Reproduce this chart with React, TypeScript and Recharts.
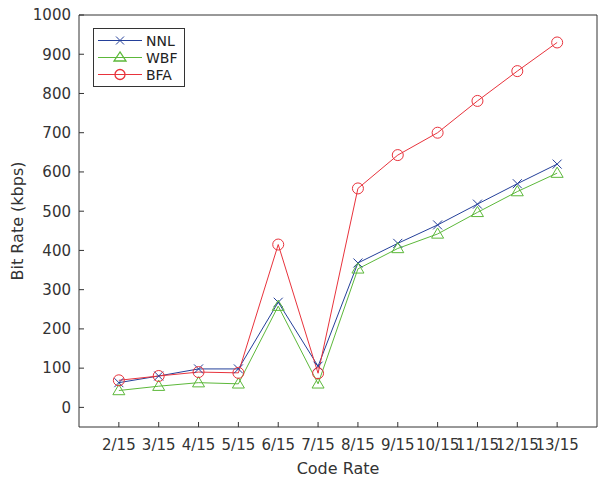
import { LineChart, Line, XAxis, YAxis } from "recharts";

// code rate index k -> label k/15
const codeRates = [2, 3, 4, 5, 6, 7, 8, 9, 10, 11, 12, 13];
const nnl = [63, 80, 98, 98, 268, 105, 368, 418, 465, 518, 570, 620];
const wbf = [43, 54, 63, 60, 258, 60, 353, 405, 442, 497, 550, 597];
const bfa = [69, 80, 90, 88, 415, 87, 558, 643, 700, 781, 857, 930];
const yTicks = [0, 100, 200, 300, 400, 500, 600, 700, 800, 900, 1000];

const BLUE = "#24409a";
const GREEN = "#5cb83a";
const RED = "#e8333c";
const FONT = "DejaVu Sans, sans-serif";

const data = codeRates.map((k, i) => ({ k, nnl: nnl[i], wbf: wbf[i], bfa: bfa[i] }));

const Cross = (props: any) => {
    const { cx, cy } = props;
    if (cx == null || cy == null) return null;
    const r = 4.5;
    return (
        <g stroke={BLUE} strokeWidth={1}>
            <line x1={cx - r} y1={cy - r} x2={cx + r} y2={cy + r} />
            <line x1={cx - r} y1={cy + r} x2={cx + r} y2={cy - r} />
        </g>
    );
};

const Tri = (props: any) => {
    const { cx, cy } = props;
    if (cx == null || cy == null) return null;
    const r = 6;
    return (
        <polygon
            points={`${cx},${cy - r} ${cx - r},${cy + r * 0.7} ${cx + r},${cy + r * 0.7}`}
            fill="none"
            stroke={GREEN}
            strokeWidth={1}
        />
    );
};

const Circ = (props: any) => {
    const { cx, cy } = props;
    if (cx == null || cy == null) return null;
    return <circle cx={cx} cy={cy} r={5.5} fill="none" stroke={RED} strokeWidth={1} />;
};

const LegendBox = () => {
    const rows = [
        { name: "NNL", color: BLUE, mark: "x" },
        { name: "WBF", color: GREEN, mark: "t" },
        { name: "BFA", color: RED, mark: "o" },
    ];
    return (
        <div style={{ position: "absolute", left: 93, top: 28, border: "1px solid #333", background: "#fff", width: 92, height: 59, boxSizing: "border-box", paddingTop: 3 }}>
            {rows.map((r) => (
                <div key={r.name} style={{ display: "flex", alignItems: "center", height: 17 }}>
                    <svg width={52} height={17}>
                        <line x1={4} y1={8.5} x2={48} y2={8.5} stroke={r.color} strokeWidth={1.2} />
                        {r.mark === "x" && (
                            <g stroke={r.color}>
                                <line x1={22} y1={4.5} x2={30} y2={12.5} />
                                <line x1={22} y1={12.5} x2={30} y2={4.5} />
                            </g>
                        )}
                        {r.mark === "t" && (
                            <polygon points="26,3 20,12 32,12" fill="none" stroke={r.color} strokeWidth={1.3} />
                        )}
                        {r.mark === "o" && <circle cx={26} cy={8.5} r={5} fill="none" stroke={r.color} strokeWidth={1.3} />}
                    </svg>
                    <span style={{ fontFamily: FONT, fontSize: 14, color: "#222" }}>{r.name}</span>
                </div>
            ))}
        </div>
    );
};

const tickStyle = { fontFamily: FONT, fontSize: 15, fill: "#333" };

export default function App() {
    return (
        <div style={{ position: "absolute", left: 0, top: 0, width: 598, height: 479, background: "#fff" }}>
            <LineChart width={598} height={479} data={data} margin={{ top: 14, right: 0, bottom: 0, left: 0 }}>
                <XAxis
                    xAxisId="b"
                    dataKey="k"
                    type="number"
                    domain={[1, 14]}
                    ticks={codeRates}
                    tickFormatter={(v) => `${v}/15`}
                    interval={0}
                    stroke="#333"
                    tick={tickStyle}
                    tickSize={-5}
                    tickMargin={17}
                    height={52}
                    label={{ value: "Code Rate", position: "insideBottom", offset: 5, style: { fontFamily: FONT, fontSize: 16, fill: "#333" } }}
                />
                <XAxis
                    xAxisId="t"
                    dataKey="k"
                    type="number"
                    orientation="top"
                    domain={[1, 14]}
                    ticks={codeRates}
                    tick={false}
                    tickSize={-5}
                    stroke="#333"
                    height={1}
                />
                <YAxis
                    yAxisId="l"
                    type="number"
                    domain={[-50, 1000]}
                    ticks={yTicks}
                    interval={0}
                    stroke="#333"
                    tick={tickStyle}
                    tickSize={-5}
                    tickMargin={13}
                    width={79}
                    label={{ value: "Bit Rate (kbps)", angle: -90, position: "insideLeft", offset: 17, style: { fontFamily: FONT, fontSize: 16, fill: "#333", textAnchor: "middle" } }}
                />
                <YAxis
                    yAxisId="r"
                    type="number"
                    orientation="right"
                    domain={[-50, 1000]}
                    ticks={yTicks}
                    tick={false}
                    tickSize={-5}
                    stroke="#333"
                    width={1}
                />
                <Line xAxisId="b" yAxisId="l" dataKey="nnl" name="NNL" stroke={BLUE} strokeWidth={1} dot={<Cross />} activeDot={false} isAnimationActive={false} />
                <Line xAxisId="b" yAxisId="l" dataKey="wbf" name="WBF" stroke={GREEN} strokeWidth={1} dot={<Tri />} activeDot={false} isAnimationActive={false} />
                <Line xAxisId="b" yAxisId="l" dataKey="bfa" name="BFA" stroke={RED} strokeWidth={1} dot={<Circ />} activeDot={false} isAnimationActive={false} />
            </LineChart>
            <LegendBox />
        </div>
    );
}
